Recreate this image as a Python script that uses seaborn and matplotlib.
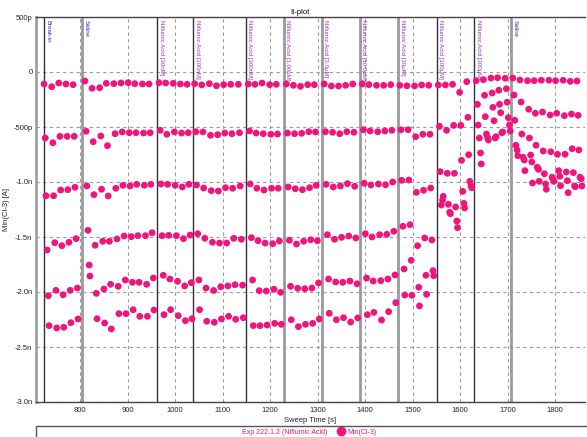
import numpy as np
import pandas as pd
import matplotlib
matplotlib.use("Agg")
import matplotlib.pyplot as plt
import seaborn as sns
from matplotlib.lines import Line2D
from matplotlib.patches import Rectangle

# sweep times [s] (per segment)
sweep_time = [724, 740, 755, 770, 785,
              810, 825, 841, 855, 871, 886, 901, 915, 931, 945,
              966, 980, 996, 1011, 1025,
              1041, 1056, 1072, 1087, 1102, 1117, 1133,
              1154, 1168, 1183, 1199, 1213,
              1234, 1249, 1264, 1279, 1293,
              1314, 1329, 1344, 1359, 1374,
              1394, 1408, 1424, 1439, 1454,
              1473, 1488, 1504, 1519, 1534,
              1554, 1569, 1584, 1599, 1614,
              1634, 1649, 1665, 1679, 1695,
              1711, 1726, 1742, 1756, 1771, 1787, 1801, 1817, 1832, 1846]

# time lag of each trace inside a sweep [s]
trace_lag = [0, 2.5, 4, 6.5, 9, 10.5]

# Min(Cl-3) values in nA, one list per trace
trace1 = [-0.109, -0.134, -0.100, -0.109, -0.115,
          -0.082, -0.148, -0.143, -0.103, -0.106, -0.100, -0.097, -0.106, -0.109, -0.109,
          -0.097, -0.100, -0.103, -0.109, -0.112,
          -0.106, -0.118, -0.106, -0.125, -0.115, -0.112, -0.112,
          -0.109, -0.112, -0.100, -0.115, -0.112,
          -0.109, -0.121, -0.130, -0.115, -0.115,
          -0.109, -0.127, -0.127, -0.121, -0.109,
          -0.109, -0.115, -0.121, -0.121, -0.115,
          -0.121, -0.125, -0.127, -0.118, -0.121,
          -0.118, -0.118, -0.112, -0.185, -0.088,
          -0.079, -0.070, -0.055, -0.052, -0.057,
          -0.055, -0.073, -0.079, -0.079, -0.075, -0.075, -0.079, -0.075, -0.085, -0.082]
trace2 = [-0.600, -0.643, -0.585, -0.585, -0.585,
          -0.539, -0.634, -0.582, -0.670, -0.561, -0.545, -0.552, -0.552, -0.555, -0.552,
          -0.530, -0.566, -0.545, -0.555, -0.552,
          -0.543, -0.545, -0.575, -0.570, -0.555, -0.561, -0.552,
          -0.536, -0.555, -0.561, -0.566, -0.564,
          -0.555, -0.561, -0.557, -0.543, -0.545,
          -0.543, -0.548, -0.561, -0.543, -0.548,
          -0.525, -0.536, -0.543, -0.536, -0.530,
          -0.525, -0.525, -0.588, -0.566, -0.566,
          -0.494, -0.530, -0.485, -0.485, -0.412,
          -0.294, -0.212, -0.191, -0.166, -0.152,
          -0.209, -0.273, -0.339, -0.375, -0.364, -0.391, -0.375, -0.397, -0.382, -0.394]
trace3 = [-1.125, -1.125, -1.073, -1.070, -1.048,
          -1.036, -1.115, -1.066, -1.127, -1.057, -1.030, -1.036, -1.021, -1.030, -1.021,
          -1.018, -1.021, -1.030, -1.045, -1.021,
          -1.027, -1.055, -1.079, -1.082, -1.052, -1.057, -1.036,
          -1.018, -1.057, -1.073, -1.057, -1.057,
          -1.045, -1.061, -1.070, -1.052, -1.030,
          -1.021, -1.045, -1.036, -1.015, -1.039,
          -1.012, -1.027, -1.018, -1.025, -1.000,
          -0.985, -0.982, -1.094, -1.075, -1.055,
          -0.906, -0.921, -0.921, -0.803, -0.752,
          -0.482, -0.406, -0.321, -0.294, -0.275,
          -0.439, -0.564, -0.600, -0.666, -0.718, -0.725, -0.748, -0.748, -0.697, -0.709]
trace4 = [-1.618, -1.552, -1.579, -1.548, -1.515,
          -1.439, -1.575, -1.539, -1.539, -1.518, -1.491, -1.497, -1.488, -1.488, -1.461,
          -1.488, -1.485, -1.488, -1.515, -1.482,
          -1.470, -1.512, -1.548, -1.555, -1.555, -1.512, -1.521,
          -1.506, -1.534, -1.555, -1.561, -1.536,
          -1.530, -1.564, -1.539, -1.525, -1.534,
          -1.479, -1.521, -1.503, -1.491, -1.509,
          -1.470, -1.500, -1.479, -1.475, -1.448,
          -1.403, -1.388, -1.579, -1.509, -1.527,
          -1.209, -1.203, -1.227, -1.085, -0.994,
          -0.600, -0.564, -0.443, -0.370, -0.415,
          -0.666, -0.775, -0.755, -0.866, -0.925, -0.957, -0.897, -0.909, -0.915, -0.957]
trace5 = [-2.034, -1.985, -2.025, -1.985, -1.964,
          -1.755, -2.012, -1.973, -1.930, -1.948, -1.891, -1.912, -1.912, -1.930, -1.873,
          -1.848, -1.882, -1.903, -1.945, -1.915,
          -1.891, -1.964, -1.986, -1.952, -1.945, -1.934, -1.938,
          -1.891, -1.988, -1.991, -1.975, -2.003,
          -1.948, -1.966, -1.970, -1.964, -1.918,
          -1.882, -1.909, -1.912, -1.900, -1.925,
          -1.873, -1.900, -1.897, -1.882, -1.845,
          -1.791, -1.712, -1.957, -1.848, -1.806,
          -1.164, -1.275, -1.355, -1.194, -1.034,
          -0.736, -0.597, -0.600, -0.552, -0.482,
          -0.709, -0.800, -0.818, -0.885, -1.018, -0.975, -0.948, -0.988, -1.036, -0.970]
trace6 = [-2.306, -2.327, -2.321, -2.279, -2.245,
          -1.855, -2.243, -2.282, -2.336, -2.197, -2.197, -2.161, -2.221, -2.221, -2.164,
          -2.206, -2.161, -2.215, -2.261, -2.243,
          -2.161, -2.266, -2.275, -2.245, -2.221, -2.248, -2.234,
          -2.306, -2.306, -2.300, -2.285, -2.294,
          -2.252, -2.315, -2.294, -2.285, -2.245,
          -2.194, -2.252, -2.234, -2.273, -2.236,
          -2.206, -2.185, -2.255, -2.179, -2.097,
          -2.027, -2.030, -2.127, -2.021, -1.852,
          -1.130, -1.288, -1.415, -1.236, -1.052,
          -0.836, -0.618, -0.588, -0.545, -0.536,
          -0.761, -0.897, -1.009, -0.994, -1.066, -0.994, -1.034, -1.097, -1.043, -1.036]

# solution change markers
marker_time = [724, 804, 962, 1038, 1149, 1229, 1309, 1389, 1470, 1551, 1630, 1707]
marker_label = ["Break-in", "Saline",
                "Niflumic Acid [30nM]", "Niflumic Acid [100nM]", "Niflumic Acid [300nM]",
                "Niflumic Acid [1.00µM]", "Niflumic Acid [3.0µM]", "Niflumic Acid [10.0µM]",
                "Niflumic Acid [30µM]", "Niflumic Acid [100µM]", "Niflumic Acid [300µM]",
                "Saline"]
marker_dark = [True, False, True, True, True, False, False, False, False, True, True, False]

xtick_val = [800, 900, 1000, 1100, 1200, 1300, 1400, 1500, 1600, 1700, 1800]
ytick_val = [-3.0, -2.5, -2.0, -1.5, -1.0, -0.5, 0.0, 0.5]
ytick_label = ["-3.0n", "-2.5n", "-2.0n", "-1.5n", "-1.0n", "-500p", "0", "500p"]

PINK = "#F0147C"

traces = [trace1, trace2, trace3, trace4, trace5, trace6]
rows = []
for k, tr in enumerate(traces):
    for t, v in zip(sweep_time, tr):
        rows.append((t + trace_lag[k], v))
df = pd.DataFrame(rows, columns=["time", "current"])

sns.set_theme(style="white")
plt.rcParams['font.family'] = ['Liberation Sans', 'DejaVu Sans']

W, H = 587, 437
fig = plt.figure(figsize=(W / 100, H / 100), dpi=100)
ax = fig.add_axes([36 / W, 1 - 402 / H, (585 - 36) / W, (402 - 17) / H])

ax.grid(True, linestyle=(0, (3, 3)), color="#9a9a9a", linewidth=0.8)
for t, lab, dark in zip(marker_time, marker_label, marker_dark):
    if dark:
        ax.axvline(t, color="#333333", lw=1.0, zorder=1)
    else:
        ax.axvline(t, color="#9a9a9a", lw=2.0, zorder=1)
    col = "#2a2ad0" if lab in ("Break-in", "Saline") else "#9a35b8"
    ax.text(t + 3, 0.47, lab, rotation=270, ha="left", va="top",
            fontsize=4.4, color=col, zorder=3)

sns.scatterplot(data=df, x="time", y="current", ax=ax, color=PINK,
                s=24, edgecolor="none", linewidth=0, zorder=4, legend=False)

ax.set_xlim(707, 1863)
ax.set_ylim(-3.0, 0.5)
ax.set_xticks(xtick_val)
ax.set_yticks(ytick_val)
ax.set_yticklabels(ytick_label)
ax.tick_params(axis="both", labelsize=5.5, length=2, width=0.8, color="#444444")
ax.tick_params(axis="y", pad=0.5)
ax.tick_params(axis="x", pad=1.5)
ax.set_xlabel("Sweep Time [s]", fontsize=5.5, labelpad=2)
ax.set_ylabel("Min(Cl-3) [A]", fontsize=5.5, labelpad=2)

ax.spines["left"].set_color("#a0a0a0")
ax.spines["left"].set_linewidth(2)
ax.spines["top"].set_color("#444444")
ax.spines["bottom"].set_color("#444444")
ax.spines["top"].set_linewidth(1)
ax.spines["bottom"].set_linewidth(1)
ax.spines["right"].set_visible(False)

fig.text(300 / W, 1 - 12 / H, "It-plot", ha="center", va="center", fontsize=5.5, color="black")

# legend box at the bottom
fig.add_artist(Rectangle((36 / W, -0.01), 1.0, (437 - 425.5) / H + 0.01,
                         transform=fig.transFigure, fill=False,
                         edgecolor="#555555", lw=1))
handles = [Line2D([], [], linestyle="none"),
           Line2D([], [], linestyle="none", marker="o", markersize=6,
                  markerfacecolor=PINK, markeredgecolor=PINK)]
fig.legend(handles, ["Exp 222.1.2 (Niflumic Acid)", "Min(Cl-3)"], ncol=2,
           loc="center", bbox_to_anchor=(305 / W, 5 / H), frameon=False,
           fontsize=5, labelcolor=PINK, handlelength=0.8, handletextpad=0.5,
           columnspacing=1.6, borderpad=0)

fig.savefig("out.png", dpi=100, facecolor="white")
